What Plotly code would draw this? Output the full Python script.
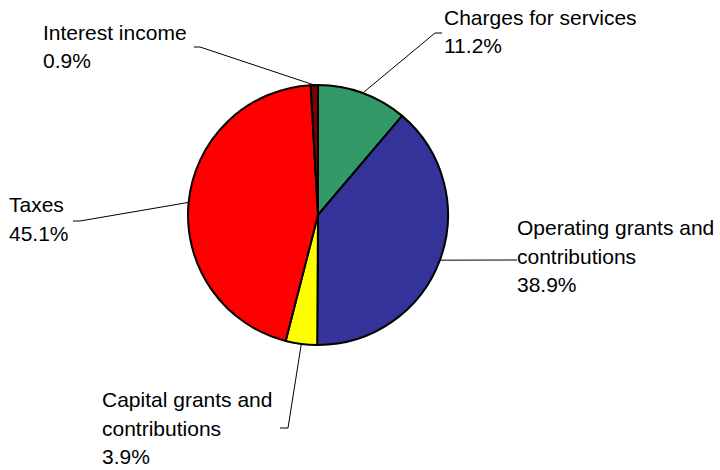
import math
import plotly.graph_objects as go

# Revenue sources (percent of total), clockwise from 12 o'clock
labels = ["Charges for services", "Operating grants and contributions",
          "Capital grants and contributions", "Taxes", "Interest income"]
values = [11.2, 38.9, 3.9, 45.1, 0.9]
colors = ["#339966", "#333399", "#FFFF00", "#FF0000", "#800000"]

# Label text lines (wrapped as displayed)
label_lines = [
    ["Charges for services"],
    ["Operating grants and", "contributions"],
    ["Capital grants and", "contributions"],
    ["Taxes"],
    ["Interest income"],
]

W, H = 720, 470
CX, CY, R = 318, 215, 130  # pie centre and radius in pixels
LINE_STEP = 28.5           # distance between label lines in pixels

# label anchor (left x, top y) and leader elbow / end in pixels
label_pos = [(443, 5), (516, 215), (101, 387), (8, 192), (42, 20)]
elbows = [((435, 33), (442, 33)),
          ((517, 260), (517, 260)),
          ((288, 428), (280, 428)),
          ((80, 221), (73, 221)),
          ((200, 47), (194, 47))]


def px(x):
    return x / W


def py(y):
    return 1 - y / H


fig = go.Figure(go.Pie(
    labels=labels,
    values=values,
    sort=False,
    direction="clockwise",
    rotation=0,
    marker=dict(colors=colors, line=dict(color="#000000", width=2)),
    textinfo="none",
    hoverinfo="label+percent",
    showlegend=False,
    domain=dict(x=[px(CX - R), px(CX + R)], y=[py(CY + R), py(CY - R)]),
))

total = sum(values)
annotations = []
shapes = []
cum = 0.0
for i, v in enumerate(values):
    mid = (cum + v / 2) / total * 2 * math.pi
    cum += v
    sx = CX + R * math.sin(mid)
    sy = CY - R * math.cos(mid)
    (ex, ey), (tx, ty) = elbows[i]
    shapes.append(dict(
        type="path", xref="paper", yref="paper",
        path=f"M {px(sx)} {py(sy)} L {px(ex)} {py(ey)} L {px(tx)} {py(ty)}",
        line=dict(color="#000000", width=1),
    ))
    lines = label_lines[i] + [f"{v:.1f}%"]
    lx, ly = label_pos[i]
    for k, line in enumerate(lines):
        annotations.append(dict(
            x=px(lx), y=py(ly + k * LINE_STEP), xref="paper", yref="paper",
            xanchor="left", yanchor="top", align="left",
            text=line, showarrow=False, borderpad=0,
            font=dict(family="Liberation Sans, Arial, sans-serif", size=21, color="#000000"),
        ))

fig.update_layout(
    width=W, height=H,
    margin=dict(l=0, r=0, t=0, b=0),
    paper_bgcolor="#FFFFFF",
    plot_bgcolor="#FFFFFF",
    annotations=annotations,
    shapes=shapes,
)

fig.write_html("out.html")
